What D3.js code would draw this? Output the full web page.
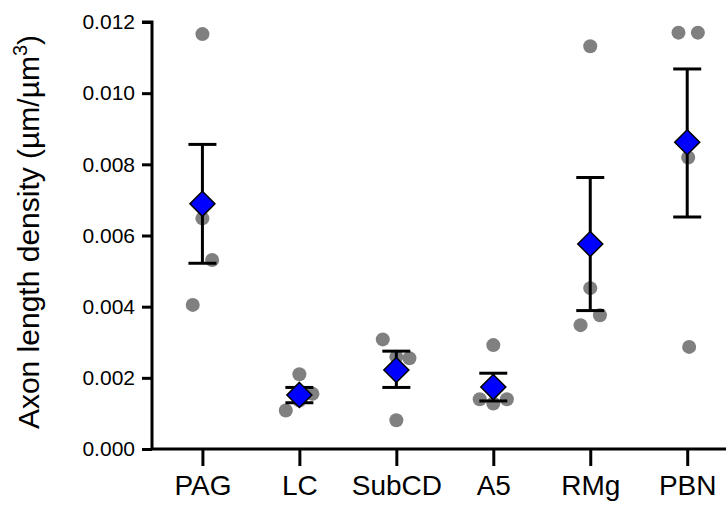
<!DOCTYPE html>
<html>
<head>
<meta charset="utf-8">
<script src="https://cdn.jsdelivr.net/npm/d3@7"></script>
<style>
  html, body { margin: 0; padding: 0; background: #fff; }
  svg text { font-family: "Liberation Sans", Arial, sans-serif; fill: #000; }
</style>
</head>
<body>
<svg id="chart" width="726" height="506"></svg>
<script>
// ---- data ----
const categories = ["PAG", "LC", "SubCD", "A5", "RMg", "PBN"];
// individual values per region
const pointValues = [
  [0.01166, 0.00648, 0.00531, 0.00405],
  [0.00210, 0.00155, 0.00136, 0.00108],
  [0.00308, 0.00259, 0.00255, 0.00081],
  [0.00292, 0.00140, 0.00128, 0.00140],
  [0.01132, 0.00452, 0.00376, 0.00348],
  [0.01170, 0.01170, 0.00819, 0.00287]
];
// horizontal scatter of each point, in category units
const pointJitter = [
  [0, 0, 0.10, -0.10],
  [0, 0.135, 0, -0.14],
  [-0.14, 0, 0.135, 0],
  [0, -0.14, 0, 0.14],
  [0, 0, 0.10, -0.10],
  [-0.09, 0.11, 0.01, 0.02]
];
const means = [0.00689, 0.00152, 0.00222, 0.00174, 0.00576, 0.00862];
const errUpper = [0.00856, 0.00173, 0.00275, 0.00213, 0.00763, 0.01068];
const errLower = [0.00522, 0.00130, 0.00173, 0.00135, 0.00389, 0.00652];
const yTicks = [0, 0.002, 0.004, 0.006, 0.008, 0.010, 0.012];

// ---- layout ----
const svg = d3.select("#chart");
const mLeft = 152, mTop = 22, mBottom = 449, mRight = 726;
const FONT = '"Liberation Sans", Arial, sans-serif';

const x = d3.scaleLinear().domain([-0.52, 5.4]).range([mLeft, mRight]);
const y = d3.scaleLinear().domain([0, 0.012]).range([mBottom, mTop]);

// y axis
const yAxis = d3.axisLeft(y).tickValues(yTicks).tickFormat(d3.format(".3f")).tickSize(10).tickPadding(7);
const gy = svg.append("g").attr("transform", `translate(${mLeft},0)`).call(yAxis);
gy.select(".domain").attr("stroke", "#000").attr("stroke-width", 3).attr("d", `M-10,${mTop}H0V${mBottom}`);
gy.selectAll(".tick line").attr("stroke", "#000").attr("stroke-width", 3);
gy.selectAll(".tick text").style("font-size", "21px").style("font-family", FONT).attr("fill", "#000");

// x axis
const xAxis = d3.axisBottom(x).tickValues(d3.range(categories.length)).tickFormat(i => categories[i]).tickSize(17).tickPadding(9);
const gx = svg.append("g").attr("transform", `translate(0,${mBottom})`).call(xAxis);
gx.select(".domain").attr("stroke", "#000").attr("stroke-width", 3).attr("d", `M${mLeft},0H${mRight}`);
gx.selectAll(".tick line").attr("stroke", "#000").attr("stroke-width", 3);
gx.selectAll(".tick text").style("font-size", "28px").style("font-family", FONT).attr("fill", "#000");

// y label
svg.append("text")
  .attr("transform", `translate(39,232) rotate(-90)`)
  .attr("text-anchor", "middle")
  .style("font-size", "30px")
  .html('Axon length density (µm/µm<tspan dy="-12" font-size="20px">3</tspan><tspan dy="12">)</tspan>');

// points
const pts = [];
pointValues.forEach((vals, i) => vals.forEach((v, j) => pts.push({ xi: i + pointJitter[i][j], v })));
svg.append("g").selectAll("circle").data(pts).join("circle")
  .attr("cx", d => x(d.xi)).attr("cy", d => y(d.v)).attr("r", 7)
  .attr("fill", "#808080");

// error bars
const capHalf = 14;
const eb = svg.append("g").attr("stroke", "#000").attr("stroke-width", 3).attr("fill", "none");
categories.forEach((c, i) => {
  const cx = x(i);
  eb.append("line").attr("x1", cx).attr("x2", cx).attr("y1", y(errUpper[i])).attr("y2", y(errLower[i]));
  eb.append("line").attr("x1", cx - capHalf).attr("x2", cx + capHalf).attr("y1", y(errUpper[i])).attr("y2", y(errUpper[i]));
  eb.append("line").attr("x1", cx - capHalf).attr("x2", cx + capHalf).attr("y1", y(errLower[i])).attr("y2", y(errLower[i]));
});

// mean diamonds
const dsz = 12.5;
svg.append("g").selectAll("path").data(means).join("path")
  .attr("d", (m, i) => {
    const cx = x(i), cy = y(m);
    return `M${cx},${cy - dsz}L${cx + dsz},${cy}L${cx},${cy + dsz}L${cx - dsz},${cy}Z`;
  })
  .attr("fill", "#0000ff").attr("stroke", "#000").attr("stroke-width", 1.5);
</script>
</body>
</html>
